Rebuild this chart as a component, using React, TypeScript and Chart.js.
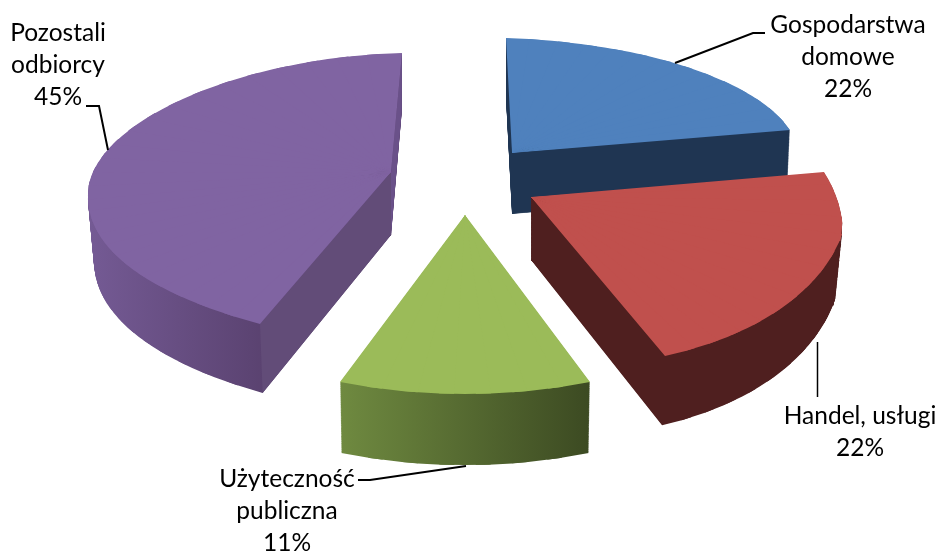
import React, { useEffect, useRef } from "react";
import { Chart, registerables } from "chart.js";

Chart.register(...registerables);

const CATEGORIES = ["Gospodarstwa domowe", "Handel, usługi", "Użyteczność publiczna", "Pozostali odbiorcy"];
const VALUES = [22, 22, 11, 45];
const TOP_COLORS = ["#4f81bd", "#c0504d", "#9bbb59", "#8064a2"];
const LABEL_LINES = [["Gospodarstwa", "domowe"], ["Handel, usługi"], ["Użyteczność", "publiczna"], ["Pozostali", "odbiorcy"]];

// Perspective of each slice: the apex and rim stations (fraction along the
// slice's own arc -> page position). Each run of three stations fixes a
// homography that bends the arc computed by the library into the tilted view.
const VIEWS = [
  {
    ox: 512, oy: 153, depth: 61, sx: 0.99, sy: 1,
    rim: [[0, 506, 38], [0.505, 690, 68], [1, 790, 130]],
    wall: ["#1f3552", "#1f3552"], span: [500, 800], face: null,
  },
  {
    ox: 531, oy: 197, depth: 63, sx: 0.978, sy: 1.04,
    rim: [[0, 824, 172], [0.136, 838, 202], [0.263, 843, 232], [0.515, 806, 288], [1, 665, 356]],
    wall: ["#4f1f1f", "#4f1f1f"], span: [530, 850], face: null,
  },
  {
    ox: 465, oy: 215, depth: 71, sx: 0.99, sy: 1,
    rim: [[0, 590, 382], [0.5, 465, 394], [1, 340, 382]],
    wall: ["#3c4a22", "#6f8a40"], span: [590, 340], face: null,
  },
  {
    ox: 391, oy: 172, depth: 63, sx: 0.98, sy: 1.04,
    rim: [[0, 260, 324], [0.167, 149, 280], [0.444, 88, 197], [0.722, 185, 98], [1, 402, 53]],
    wall: ["#745a94", "#5a4270"], span: [90, 265], face: ["#624c78", "#6a5189"],
  },
];
const DRAW_ORDER = [0, 3, 2, 1];
const LABEL_BOXES = [
  { x: 848, y: 25, line: [[675, 63], [753, 33], [765, 33]], width: 2 },
  { x: 860, y: 416, line: [[817.5, 342], [817.5, 397]], width: 1.5 },
  { x: 287, y: 479, line: [[466, 466], [370, 480], [358, 480]], width: 2 },
  { x: 58, y: 33, line: [[108, 150], [99, 106], [86, 106]], width: 2 },
];
const LINE_STEP = 32;
const FONT = '24.5px Lato, "Noto Sans", sans-serif';
const STATION_STEP = (6 * Math.PI) / 180;

function solve(m: number[][], r: number[]) {
  const n = r.length;
  const A = m.map((row, i) => [...row, r[i]]);
  for (let i = 0; i < n; i++) {
    let p = i;
    for (let j = i + 1; j < n; j++) if (Math.abs(A[j][i]) > Math.abs(A[p][i])) p = j;
    [A[i], A[p]] = [A[p], A[i]];
    for (let j = 0; j < n; j++) {
      if (j === i) continue;
      const k = A[j][i] / A[i][i];
      for (let l = i; l <= n; l++) A[j][l] -= k * A[i][l];
    }
  }
  return A.map((row, i) => row[n] / row[i]);
}

// returns a function: arc angle -> page offset from the apex
function homography(v: any, startAngle: number, endAngle: number) {
  const pieces: { from: number; to: number; h: number[] }[] = [];
  for (let s = 0; s + 2 < v.rim.length; s += 2) {
    const run = v.rim.slice(s, s + 3);
    const m: number[][] = [];
    const r: number[] = [];
    for (const [f, px, py] of run) {
      const ang = startAngle + f * (endAngle - startAngle);
      const ux = Math.cos(ang), uy = Math.sin(ang);
      const X = px - v.ox, Y = py - v.oy;
      m.push([ux, uy, 0, 0, X * ux, X * uy]);
      r.push(X);
      m.push([0, 0, ux, uy, Y * ux, Y * uy]);
      r.push(Y);
    }
    pieces.push({ from: run[0][0], to: run[2][0], h: solve(m, r) });
  }
  return (f: number) => {
    const piece = pieces.find((p) => f <= p.to + 1e-9) || pieces[pieces.length - 1];
    const [a, c, b, d, p, q] = piece.h;
    const ang = startAngle + f * (endAngle - startAngle);
    const ux = Math.cos(ang), uy = Math.sin(ang);
    const w = 1 - p * ux - q * uy;
    return [(a * ux + c * uy) / w, (b * ux + d * uy) / w];
  };
}

function drawSlice(ctx: CanvasRenderingContext2D, arc: any, fill: any, v: any, t: number) {
  const { x: cx, y: cy, outerRadius: R, startAngle, endAngle } = arc.getProps(["x", "y", "outerRadius", "startAngle", "endAngle"], true);
  const saved = arc.options;
  arc.options = Object.create(saved, { backgroundColor: { value: fill, enumerable: true } });
  const kx = 1 + t * (v.sx - 1);
  const ky = 1 + t * (v.sy - 1);
  const oy = v.oy + t * v.depth;
  const H = homography(v, startAngle, endAngle);
  const n = Math.max(1, Math.ceil((endAngle - startAngle) / STATION_STEP));
  for (let i = 0; i < n; i++) {
    const f0 = i / n, f1 = (i + 1) / n;
    const a0 = startAngle + (endAngle - startAngle) * f0;
    const a1 = startAngle + (endAngle - startAngle) * f1;
    const ux0 = Math.cos(a0), uy0 = Math.sin(a0), ux1 = Math.cos(a1), uy1 = Math.sin(a1);
    const det = ux0 * uy1 - ux1 * uy0;
    const p0 = H(f0), p1 = H(f1);
    const vx0 = p0[0] * kx, vy0 = p0[1] * ky, vx1 = p1[0] * kx, vy1 = p1[1] * ky;
    const a = ((vx0 * uy1 - vx1 * uy0) / det) / R;
    const b = ((vy0 * uy1 - vy1 * uy0) / det) / R;
    const c = ((ux0 * vx1 - ux1 * vx0) / det) / R;
    const d = ((ux0 * vy1 - ux1 * vy0) / det) / R;
    ctx.save();
    ctx.transform(a, b, c, d, v.ox - a * cx - c * cy, oy - b * cx - d * cy);
    const pad = 0.02;
    const mid = (a0 + a1) / 2;
    ctx.beginPath();
    ctx.moveTo(cx - 4 * Math.cos(mid), cy - 4 * Math.sin(mid));
    ctx.lineTo(cx + 1.6 * R * Math.cos(a0 - pad), cy + 1.6 * R * Math.sin(a0 - pad));
    ctx.lineTo(cx + 1.6 * R * Math.cos(a1 + pad), cy + 1.6 * R * Math.sin(a1 + pad));
    ctx.closePath();
    ctx.clip();
    arc.draw(ctx);
    ctx.restore();
  }
  arc.options = saved;
}

const tiltedPie = {
  id: "tiltedPie",
  beforeDatasetsDraw(chart: any) {
    const ctx: CanvasRenderingContext2D = chart.ctx;
    const arcs = chart.getDatasetMeta(0).data;
    for (const i of DRAW_ORDER) {
      const arc = arcs[i];
      const v = VIEWS[i];
      const layer = document.createElement("canvas");
      layer.width = chart.width;
      layer.height = chart.height;
      const g = layer.getContext("2d") as CanvasRenderingContext2D;
      for (let s = 80; s >= 1; s--) drawSlice(g, arc, v.wall[0], v, s / 80);
      // wall shading runs across the page
      const grad = g.createLinearGradient(v.span[0], 0, v.span[1], 0);
      grad.addColorStop(0, v.wall[0]);
      grad.addColorStop(1, v.wall[1]);
      g.globalCompositeOperation = "source-atop";
      g.fillStyle = grad;
      g.fillRect(0, 0, layer.width, layer.height);
      g.globalCompositeOperation = "source-over";
      if (v.face) {
        [v.rim[0], v.rim[v.rim.length - 1]].forEach((p: number[], k: number) => {
          const bx = v.ox + (p[1] - v.ox) * v.sx;
          const by = v.oy + v.depth + (p[2] - v.oy) * v.sy;
          g.beginPath();
          g.moveTo(v.ox, v.oy);
          g.lineTo(p[1], p[2]);
          g.lineTo(bx, by);
          g.lineTo(v.ox, v.oy + v.depth);
          g.closePath();
          g.fillStyle = v.face[k];
          g.fill();
        });
      }
      drawSlice(g, arc, arc.options.backgroundColor, v, 0);
      ctx.drawImage(layer, 0, 0);
    }
    // labels and leader lines
    ctx.save();
    ctx.font = FONT;
    ctx.fillStyle = "#000";
    ctx.textAlign = "center";
    ctx.textBaseline = "middle";
    ctx.strokeStyle = "#000";
    VALUES.forEach((val, i) => {
      const box = LABEL_BOXES[i];
      const lines = [...LABEL_LINES[i], `${val}%`];
      lines.forEach((t, k) => ctx.fillText(t, box.x, box.y + k * LINE_STEP));
      ctx.beginPath();
      ctx.lineWidth = box.width;
      box.line.forEach((p, k) => (k ? ctx.lineTo(p[0], p[1]) : ctx.moveTo(p[0], p[1])));
      ctx.stroke();
    });
    ctx.restore();
    return false;
  },
};

export default function App() {
  const ref = useRef<HTMLCanvasElement>(null);
  useEffect(() => {
    const chart = new Chart(ref.current as HTMLCanvasElement, {
      type: "pie",
      data: {
        labels: CATEGORIES,
        datasets: [{ data: VALUES, backgroundColor: TOP_COLORS, borderWidth: 0 }],
      },
      options: {
        animation: false,
        responsive: false,
        devicePixelRatio: 1,
        plugins: { legend: { display: false }, tooltip: { enabled: false } },
      },
      plugins: [tiltedPie],
    } as any);
    return () => chart.destroy();
  }, []);
  return (
    <div style={{ position: "absolute", left: 0, top: 0, width: 937, height: 552, background: "#fff" }}>
      <canvas ref={ref} width={937} height={552} style={{ display: "block" }} />
    </div>
  );
}
